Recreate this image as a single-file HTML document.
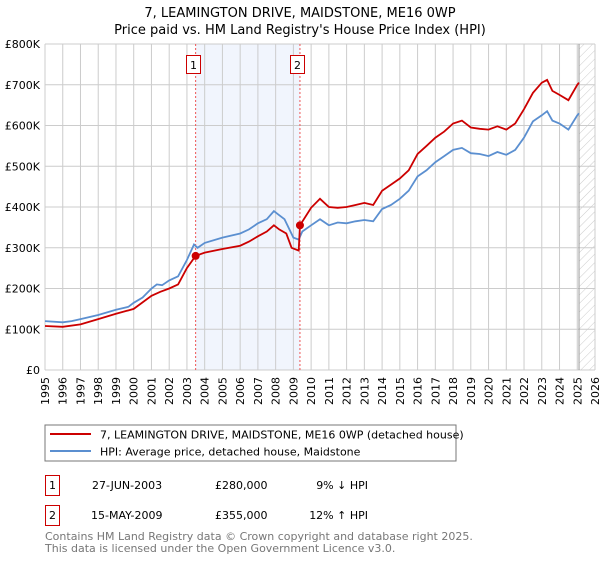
<!DOCTYPE html>
<html><head><meta charset="utf-8"><style>
body{margin:0;background:#fff;font-family:"DejaVu Sans","Liberation Sans",sans-serif;}
svg text{font-family:"DejaVu Sans","Liberation Sans",sans-serif;}
</style></head><body>
<svg id="c" width="600" height="560" xmlns="http://www.w3.org/2000/svg">
<defs><pattern id="hatch" width="6" height="6" patternUnits="userSpaceOnUse" patternTransform="rotate(45)"><line x1="0" y1="0" x2="0" y2="6" stroke="#ccc" stroke-width="1"/></pattern></defs>
<text x="300" y="17" text-anchor="middle" font-size="13">7, LEAMINGTON DRIVE, MAIDSTONE, ME16 0WP</text>
<text x="300" y="34" text-anchor="middle" font-size="13">Price paid vs. HM Land Registry's House Price Index (HPI)</text>
<g id="plot"></g>
<rect x="45" y="425" width="411" height="36" fill="#fff" stroke="#777"/>
<line x1="50" y1="434" x2="91" y2="434" stroke="#cc0000" stroke-width="2"/>
<text x="100" y="438.5" font-size="11">7, LEAMINGTON DRIVE, MAIDSTONE, ME16 0WP (detached house)</text>
<line x1="50" y1="451" x2="91" y2="451" stroke="#5b8fd0" stroke-width="2"/>
<text x="100" y="455.5" font-size="11">HPI: Average price, detached house, Maidstone</text>
<g font-size="11">
<rect x="45.5" y="475.5" width="14" height="20" fill="#fff" stroke="#cc0000"/>
<text x="52.5" y="489" text-anchor="middle">1</text>
<text x="92" y="489">27-JUN-2003</text>
<text x="215" y="489">£280,000</text>
<text x="368" y="489" text-anchor="end">9% ↓ HPI</text>
<rect x="45.5" y="505.5" width="14" height="20" fill="#fff" stroke="#cc0000"/>
<text x="52.5" y="519" text-anchor="middle">2</text>
<text x="91" y="519">15-MAY-2009</text>
<text x="215" y="519">£355,000</text>
<text x="368" y="519" text-anchor="end">12% ↑ HPI</text>
</g>
<text x="45" y="540" font-size="11" fill="#777">Contains HM Land Registry data © Crown copyright and database right 2025.</text>
<text x="45" y="552" font-size="11" fill="#777">This data is licensed under the Open Government Licence v3.0.</text>
</svg>
<script>
const hpiYears=[1995,1996,1996.5,1997,1998,1999,1999.7,2000,2000.5,2001,2001.3,2001.6,2002,2002.5,2003,2003.4,2003.6,2004,2005,2006,2006.5,2007,2007.5,2007.9,2008.2,2008.5,2009,2009.3,2009.5,2010,2010.5,2011,2011.5,2012,2012.5,2013,2013.5,2014,2014.5,2015,2015.5,2016,2016.5,2017,2017.5,2018,2018.5,2019,2019.5,2020,2020.5,2021,2021.5,2022,2022.5,2023,2023.3,2023.6,2024,2024.5,2025,2025.1];
const hpiValues=[120,117,120,125,135,148,155,165,178,200,210,208,220,230,270,308,300,312,325,335,345,360,370,390,380,370,325,320,340,355,370,355,362,360,365,368,365,395,405,420,440,475,490,510,525,540,545,532,530,525,535,528,540,570,610,625,635,612,605,590,625,630];
const priceYears=[1995,1996,1997,1998,1999,2000,2001,2001.5,2002,2002.5,2003,2003.49,2004,2005,2006,2006.5,2007,2007.5,2007.9,2008.2,2008.6,2008.9,2009.3,2009.37,2010,2010.5,2011,2011.5,2012,2012.5,2013,2013.5,2014,2014.5,2015,2015.5,2016,2016.5,2017,2017.5,2018,2018.5,2019,2019.5,2020,2020.5,2021,2021.5,2022,2022.5,2023,2023.3,2023.6,2024,2024.5,2025,2025.1];
const priceValues=[108,106,112,125,138,150,182,192,200,210,250,280,288,297,305,315,328,340,355,345,335,300,293,355,398,420,400,398,400,405,410,405,440,455,470,490,530,550,570,585,605,612,595,592,590,598,590,605,640,680,705,712,685,675,662,700,705];
const saleYears=[2003.49,2009.37];
const saleValues=[280,355];
const saleLabels=["1","2"];
const yTicks=[0,100,200,300,400,500,600,700,800];
const yTickLabels=["£0","£100K","£200K","£300K","£400K","£500K","£600K","£700K","£800K"];
const xTicks=[1995,1996,1997,1998,1999,2000,2001,2002,2003,2004,2005,2006,2007,2008,2009,2010,2011,2012,2013,2014,2015,2016,2017,2018,2019,2020,2021,2022,2023,2024,2025,2026];
const forecastStart=2025.1;

const L=45,R=595,T=44,B=370;
const xs=y=>L+(y-1995)/(2026-1995)*(R-L);
const ys=v=>B-v/800*(B-T);
const NS="http://www.w3.org/2000/svg";
const g=document.getElementById('plot');
function mk(t,a){const e=document.createElementNS(NS,t);for(const k in a)e.setAttribute(k,a[k]);g.appendChild(e);return e;}
let e;
e=mk('rect',{x:xs(saleYears[0]),y:T,width:xs(saleYears[1])-xs(saleYears[0]),height:B-T,fill:'#eef3fc',opacity:0.8});


e=mk('rect',{x:xs(forecastStart),y:T,width:R-xs(forecastStart),height:B-T,fill:'url(#hatch)'});


xTicks.forEach(t=>{
 e=mk('line',{x1:xs(t),x2:xs(t),y1:T,y2:B,stroke:'#ccc','stroke-width':1});
 
 
 e=mk('text',{x:0,y:0,'font-size':11,'text-anchor':'end',transform:`translate(${xs(t)+4},${B+7}) rotate(-90)`});
 e.textContent=t;
 
 
});
yTicks.forEach((t,i)=>{
 e=mk('line',{x1:L,x2:R,y1:ys(t),y2:ys(t),stroke:'#ccc','stroke-width':1});
 
 
 e=mk('text',{x:L-5,y:ys(t)+4,'font-size':11,'text-anchor':'end'});
 e.textContent=yTickLabels[i];
 
 
});
e=mk('line',{x1:xs(forecastStart),x2:xs(forecastStart),y1:T,y2:B,stroke:'#999','stroke-width':1});


saleYears.forEach((s,i)=>{
 e=mk('line',{x1:xs(s),x2:xs(s),y1:T,y2:B,stroke:'#e55','stroke-width':1,'stroke-dasharray':'2,2'});
 
 
 e=mk('rect',{x:Math.round(xs(s)-10)+0.5,y:55.5,width:14,height:18,fill:'#fff',stroke:'#cc0000'});
 
 
 e=mk('text',{x:Math.round(xs(s)-10)+7.5,y:69,'font-size':11,'text-anchor':'middle'});
 e.textContent=saleLabels[i];
 
 
});
const pts=(X,V)=>X.map((x,i)=>xs(x).toFixed(1)+','+ys(V[i]).toFixed(1)).join(' ');
e=mk('polyline',{points:pts(hpiYears,hpiValues),fill:'none',stroke:'#5b8fd0','stroke-width':1.8});


e=mk('polyline',{points:pts(priceYears,priceValues),fill:'none',stroke:'#cc0000','stroke-width':1.8});


saleYears.forEach((s,i)=>{
 e=mk('circle',{cx:xs(s),cy:ys(saleValues[i]),r:4,fill:'#cc0000'});
 
 
});
</script>
</body></html>
